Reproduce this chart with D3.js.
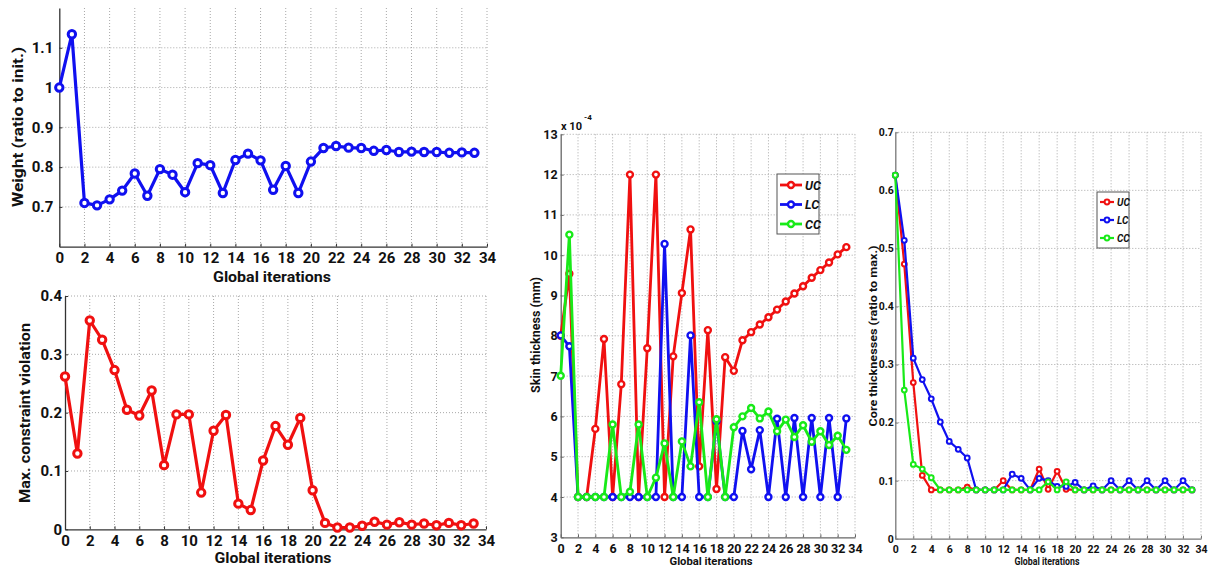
<!DOCTYPE html>
<html>
<head>
<meta charset="utf-8">
<script src="https://cdn.jsdelivr.net/npm/d3@7"></script>
<style>
  body { margin: 0; background: #fff; }
  svg { display: block; }
  text { font-family: Roboto, "DejaVu Sans", sans-serif; font-weight: bold; fill: #111; }
</style>
</head>
<body>
<svg id="fig" width="1210" height="569"></svg>
<script>

// iteration index on every x axis
const iterations = [0,1,2,3,4,5,6,7,8,9,10,11,12,13,14,15,16,17,18,19,20,21,22,23,24,25,26,27,28,29,30,31,32,33];
const xTicks = [0,2,4,6,8,10,12,14,16,18,20,22,24,26,28,30,32,34];

// weight, ratio to initial
const weightRatio = [1.0,1.134,0.71,0.704,0.719,0.741,0.784,0.728,0.795,0.781,0.737,0.81,0.805,0.735,0.818,0.834,0.817,0.743,0.803,0.735,
  0.814,0.848,0.853,0.849,0.848,0.841,0.843,0.838,0.839,0.838,0.838,0.836,0.837,0.836];
const weightTicks = [0.7,0.8,0.9,1,1.1];

// max. constraint violation
const maxViolation = [0.262,0.130,0.358,0.325,0.273,0.205,0.195,0.238,0.110,0.197,0.197,0.063,0.169,0.196,0.044,0.033,0.118,0.177,0.145,0.191,
  0.067,0.011,0.003,0.003,0.006,0.013,0.008,0.012,0.008,0.010,0.007,0.011,0.007,0.010];
const violationTicks = [0,0.1,0.2,0.3,0.4];

// skin thickness, in units of 1e-4
const skinUC = [8.0,9.54,4,4,5.69,7.92,4,6.8,12,4,7.69,12,4,7.49,9.06,10.64,4.76,8.14,4.2,7.47,
  7.13,7.89,8.09,8.28,8.46,8.65,8.85,9.05,9.23,9.44,9.63,9.82,10.02,10.2];
const skinLC = [8.01,7.74,4,4,4,4,4,4,4,4,4,4,10.28,4,4,8.01,4,4,5.88,4,
  4,5.64,4.69,5.66,4,5.94,4,5.96,4,5.96,4,5.96,4,5.95];
const skinCC = [7.01,10.51,4,4,4,4,5.8,4,4.13,5.8,4,4.48,5.33,4,5.38,4.76,6.35,4,5.93,4,
  5.73,6.0,6.21,5.95,6.12,5.63,5.92,5.49,5.78,5.37,5.63,5.29,5.52,5.17];
const skinTicks = [3,4,5,6,7,8,9,10,11,12,13];

// core thicknesses, ratio to max.
const coreUC = [0.626,0.473,0.269,0.109,0.084,0.084,0.084,0.084,0.089,0.084,0.084,0.084,0.1,0.084,0.084,0.084,0.12,0.085,0.116,0.085,
  0.084,0.084,0.084,0.084,0.084,0.084,0.084,0.084,0.084,0.084,0.084,0.084,0.084,0.084];
const coreLC = [0.626,0.514,0.311,0.274,0.241,0.201,0.1675,0.154,0.139,0.084,0.084,0.084,0.084,0.111,0.104,0.084,0.104,0.1,0.09,0.09,
  0.097,0.084,0.091,0.084,0.1,0.084,0.1,0.084,0.1,0.084,0.1,0.084,0.1,0.084];
const coreCC = [0.626,0.256,0.128,0.12,0.105,0.084,0.084,0.084,0.084,0.084,0.084,0.084,0.084,0.084,0.084,0.084,0.084,0.098,0.084,0.098,
  0.084,0.084,0.084,0.084,0.084,0.084,0.084,0.084,0.084,0.084,0.084,0.084,0.084,0.084];
const coreTicks = [0,0.1,0.2,0.3,0.4,0.5,0.6,0.7];

const seriesNames = ["UC", "LC", "CC"];
const RED = "#f01010", BLUE = "#1010f0", GREEN = "#18ea18";

const svg = d3.select("#fig");

function drawPanel(p) {
  const x = d3.scaleLinear().domain([0, 34]).range([p.left, p.right]);
  const y = d3.scaleLinear().domain(p.yDomain).range([p.bottom, p.top]);
  const g = svg.append("g");

  // dotted grid
  g.append("g").selectAll("line").data(xTicks.filter(t => t > 0)).join("line")
    .attr("x1", d => x(d)).attr("x2", d => x(d))
    .attr("y1", p.top).attr("y2", p.bottom)
    .attr("stroke", "#a8a8a8").attr("stroke-dasharray", "1,2");
  g.append("g").selectAll("line").data(p.yTicks.filter(t => t > p.yDomain[0])).join("line")
    .attr("x1", p.left).attr("x2", p.right)
    .attr("y1", d => y(d)).attr("y2", d => y(d))
    .attr("stroke", "#a8a8a8").attr("stroke-dasharray", "1,2");

  // axes
  const xa = g.append("g").attr("transform", `translate(0,${p.bottom})`)
    .call(d3.axisBottom(x).tickValues(xTicks).tickSizeInner(-3).tickSizeOuter(0).tickPadding(p.xPad));
  const ya = g.append("g").attr("transform", `translate(${p.left},0)`)
    .call(d3.axisLeft(y).tickValues(p.yTicks).tickFormat(d => String(d)).tickSizeInner(-3).tickSizeOuter(0).tickPadding(p.yPad));
  [xa, ya].forEach(a => {
    a.select(".domain").attr("stroke", p.axisColor).attr("stroke-width", 1.3);
    a.selectAll(".tick line").attr("stroke", p.axisColor);
    a.selectAll("text").attr("font-size", p.tickFont).attr("font-family", null).attr("fill", "#111");
  });

  // series
  const line = d3.line().x((d, i) => x(iterations[i])).y(d => y(d));
  p.series.forEach(s => {
    g.append("path").datum(s.values)
      .attr("d", line).attr("fill", "none")
      .attr("stroke", s.color).attr("stroke-width", p.lineWidth).attr("stroke-linejoin", "round");
    g.append("g").selectAll("circle").data(s.values).join("circle")
      .attr("cx", (d, i) => x(iterations[i])).attr("cy", d => y(d))
      .attr("r", p.markerR).attr("fill", "#fff")
      .attr("stroke", s.color).attr("stroke-width", p.markerW);
  });

  // labels
  g.append("text")
    .attr("transform", `translate(${p.yLabel.x},${p.yLabel.y}) rotate(-90)`)
    .attr("text-anchor", "middle").attr("dominant-baseline", "central")
    .attr("font-size", p.yLabel.size)
    .attr("textLength", p.yLabel.len).attr("lengthAdjust", "spacingAndGlyphs")
    .text(p.yLabel.text);
  g.append("text")
    .attr("x", p.xLabel.x).attr("y", p.xLabel.y)
    .attr("text-anchor", "middle").attr("dominant-baseline", "central")
    .attr("font-size", p.xLabel.size)
    .attr("textLength", p.xLabel.len).attr("lengthAdjust", "spacingAndGlyphs")
    .text("Global iterations");

  if (p.legend) {
    const L = p.legend;
    const lg = g.append("g");
    lg.append("rect").attr("x", L.x).attr("y", L.y).attr("width", L.w).attr("height", L.h)
      .attr("fill", "#fff").attr("stroke", "#555").attr("stroke-width", 1);
    p.series.forEach((s, i) => {
      const cy = L.y + L.first + i * L.step;
      lg.append("line").attr("x1", L.x + 3).attr("x2", L.x + 3 + L.lineLen)
        .attr("y1", cy).attr("y2", cy).attr("stroke", s.color).attr("stroke-width", p.lineWidth);
      lg.append("circle").attr("cx", L.x + 3 + L.lineLen / 2).attr("cy", cy).attr("r", p.markerR)
        .attr("fill", "#fff").attr("stroke", s.color).attr("stroke-width", p.markerW);
      lg.append("text").attr("x", L.x + 6 + L.lineLen).attr("y", cy)
        .attr("dominant-baseline", "central").attr("font-size", L.size).attr("font-style", "italic")
        .text(seriesNames[i]);
    });
  }
  return g;
}

// top left: weight
drawPanel({
  left: 59.3, right: 487, top: 8, bottom: 246.7, yDomain: [0.6, 1.2], yTicks: weightTicks,
  xPad: 6, yPad: 6, tickFont: 15, axisColor: "#333", lineWidth: 3.2, markerR: 3.7, markerW: 3,
  series: [{ values: weightRatio, color: BLUE }],
  yLabel: { text: "Weight (ratio to init.)", x: 18, y: 127, len: 160, size: 15 },
  xLabel: { x: 272, y: 277, len: 118, size: 14 }
});

// bottom left: constraint violation
drawPanel({
  left: 65, right: 486, top: 296, bottom: 529.3, yDomain: [0, 0.4], yTicks: violationTicks,
  xPad: 6, yPad: 3, tickFont: 15, axisColor: "#333", lineWidth: 3.2, markerR: 3.7, markerW: 3,
  series: [{ values: maxViolation, color: RED }],
  yLabel: { text: "Max. constraint violation", x: 25, y: 413, len: 180, size: 15 },
  xLabel: { x: 273, y: 558, len: 117, size: 14 }
});

// middle: skin thickness
const skin = drawPanel({
  left: 560.7, right: 855, top: 134.3, bottom: 537.3, yDomain: [3, 13], yTicks: skinTicks,
  xPad: 7, yPad: 3, tickFont: 12.5, axisColor: "#666", lineWidth: 2.8, markerR: 3, markerW: 2.4,
  series: [{ values: skinUC, color: RED }, { values: skinLC, color: BLUE }, { values: skinCC, color: GREEN }],
  yLabel: { text: "Skin thickness (mm)", x: 536, y: 335, len: 116, size: 12 },
  xLabel: { x: 711, y: 561, len: 83, size: 11.5 },
  legend: { x: 777, y: 174, w: 42, h: 60, first: 11, step: 19.5, lineLen: 22, size: 12.5 }
});
skin.append("text").attr("x", 561).attr("y", 130).attr("font-size", 11).text("x 10");
skin.append("text").attr("x", 584).attr("y", 120).attr("font-size", 8).text("-4");

// right: core thicknesses
drawPanel({
  left: 895.3, right: 1201, top: 132.3, bottom: 538.7, yDomain: [0, 0.7], yTicks: coreTicks,
  xPad: 7, yPad: 1.5, tickFont: 10.5, axisColor: "#777", lineWidth: 2.2, markerR: 2.4, markerW: 2,
  series: [{ values: coreUC, color: RED }, { values: coreLC, color: BLUE }, { values: coreCC, color: GREEN }],
  yLabel: { text: "Core thicknesses (ratio to max.)", x: 873, y: 336, len: 181, size: 10.5 },
  xLabel: { x: 1047, y: 561, len: 65, size: 10 },
  legend: { x: 1097, y: 192, w: 32, h: 56, first: 10, step: 18, lineLen: 14, size: 10 }
});
</script>
</body>
</html>
